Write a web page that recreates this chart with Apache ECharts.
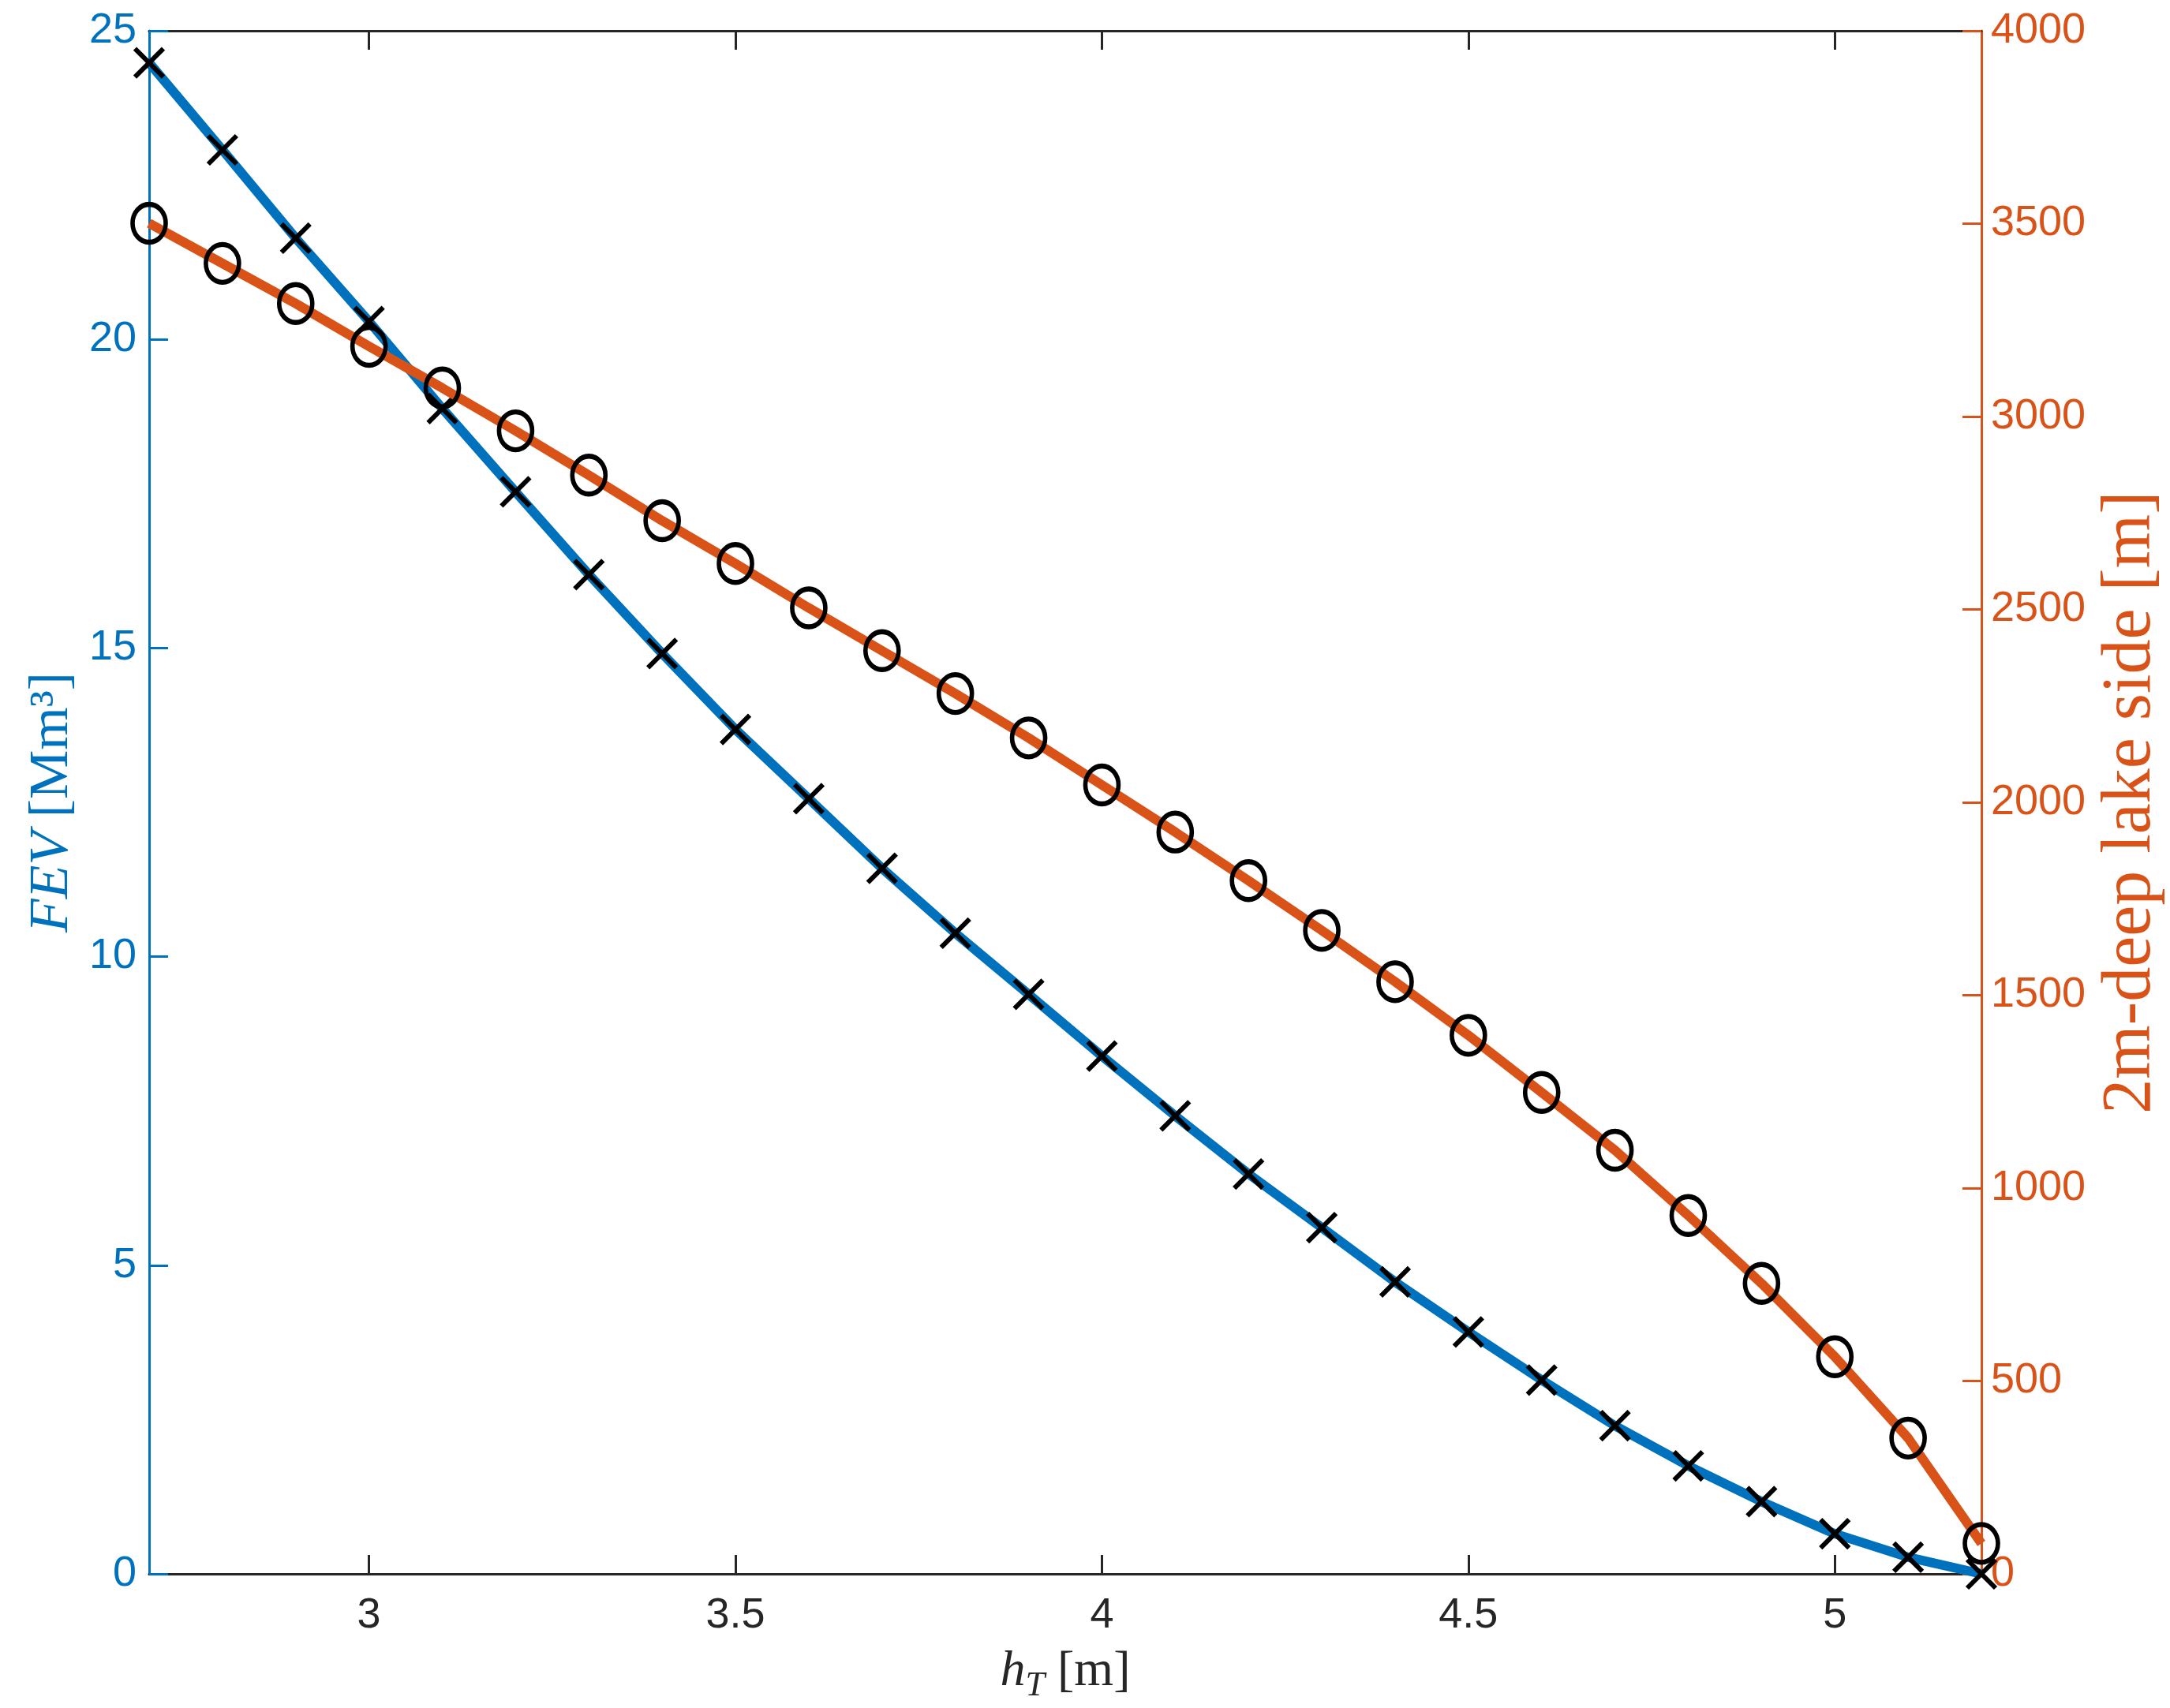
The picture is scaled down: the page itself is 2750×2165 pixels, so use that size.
<!DOCTYPE html>
<html>
<head>
<meta charset="utf-8">
<script src="https://cdn.jsdelivr.net/npm/echarts@6/dist/echarts.min.js"></script>
<style>html,body{margin:0;padding:0;background:#fff;overflow:hidden}#c{width:2750px;height:2165px}</style>
</head>
<body>
<div id="c"></div>
<script>
const hT = [2.7,2.8,2.9,3.0,3.1,3.2,3.3,3.4,3.5,3.6,3.7,3.8,3.9,4.0,4.1,4.2,4.3,4.4,4.5,4.6,4.7,4.8,4.9,5.0,5.1,5.2];
const fev = [24.48,23.07,21.64,20.29,18.88,17.53,16.19,14.91,13.68,12.56,11.43,10.38,9.39,8.39,7.42,6.48,5.61,4.73,3.92,3.14,2.40,1.75,1.17,0.65,0.27,0.0];
const lakeSide = [3501,3397,3293,3182,3074,2963,2848,2730,2619,2504,2393,2282,2167,2045,1923,1797,1668,1535,1396,1248,1098,929,753,563,352,79];
const xTicks = [3,3.5,4,4.5,5];
const leftTicks = [0,5,10,15,20,25];
const rightTicks = [0,500,1000,1500,2000,2500,3000,3500,4000];

const BLUE = '#0072BD', ORANGE = '#D95319', DARK = '#262626';
const sans = 'Liberation Sans';
const serif = 'Liberation Serif';
const xMark = 'path://M0,0L10,10M10,0L0,10';

const chart = echarts.init(document.getElementById('c'), null, {renderer: 'canvas'});
chart.setOption({
  animation: false,
  backgroundColor: '#fff',
  grid: {left: 189, right: 239, top: 39, bottom: 170, containLabel: false, outerBoundsMode: 'none'},
  xAxis: [{
    type: 'value', min: 2.7, max: 5.2, position: 'bottom',
    axisLine: {show: true, onZero: false, lineStyle: {color: DARK, width: 3}},
    axisTick: {show: true, inside: true, length: 24, lineStyle: {color: DARK, width: 3}, customValues: xTicks},
    axisLabel: {show: true, margin: 26, color: DARK, fontFamily: sans, fontSize: 54, customValues: xTicks, formatter: v => String(v)},
    splitLine: {show: false},
    name: '{i|h}{sub|T}{n| [m]}', nameLocation: 'middle', nameGap: 84,
    nameTextStyle: {
      color: DARK,
      rich: {
        i: {fontFamily: serif, fontStyle: 'italic', fontSize: 64, color: DARK, lineHeight: 80},
        sub: {fontFamily: serif, fontStyle: 'italic', fontSize: 44, color: DARK, lineHeight: 44, verticalAlign: 'bottom'},
        n: {fontFamily: serif, fontSize: 64, color: DARK, lineHeight: 80}
      }
    }
  }, {
    type: 'value', min: 2.7, max: 5.2, position: 'top',
    axisLine: {show: true, onZero: false, lineStyle: {color: DARK, width: 3}},
    axisTick: {show: true, inside: true, length: 24, lineStyle: {color: DARK, width: 3}, customValues: xTicks},
    axisLabel: {show: false},
    splitLine: {show: false}
  }],
  yAxis: [{
    type: 'value', min: 0, max: 25, interval: 5, position: 'left',
    axisLine: {show: true, onZero: false, lineStyle: {color: BLUE, width: 3}},
    axisTick: {show: true, inside: true, length: 24, lineStyle: {color: BLUE, width: 3}, customValues: leftTicks},
    axisLabel: {margin: 16, color: BLUE, fontFamily: sans, fontSize: 54, customValues: leftTicks, formatter: v => String(v)},
    splitLine: {show: false},
    name: '{i|FEV}{n| [Mm³]}', nameLocation: 'middle', nameGap: 86, nameRotate: 90,
    nameTextStyle: {
      color: BLUE,
      rich: {
        i: {fontFamily: serif, fontStyle: 'italic', fontSize: 70, color: BLUE},
        n: {fontFamily: serif, fontSize: 70, color: BLUE}
      }
    }
  }, {
    type: 'value', min: 0, max: 4000, interval: 500, position: 'right',
    axisLine: {show: true, onZero: false, lineStyle: {color: ORANGE, width: 3}},
    axisTick: {show: true, inside: true, length: 24, lineStyle: {color: ORANGE, width: 3}, customValues: rightTicks},
    axisLabel: {margin: 12, color: ORANGE, fontFamily: sans, fontSize: 54, customValues: rightTicks, formatter: v => String(v)},
    splitLine: {show: false},
    name: '2m-deep lake side [m]', nameLocation: 'middle', nameGap: 146, nameRotate: 90,
    nameTextStyle: {color: ORANGE, fontFamily: serif, fontSize: 88}
  }],
  series: [{
    type: 'line', xAxisIndex: 0, yAxisIndex: 0, clip: false,
    data: hT.map((x, i) => [x, fev[i]]),
    lineStyle: {color: BLUE, width: 12},
    symbol: xMark, symbolSize: 36, showAllSymbol: true,
    itemStyle: {color: 'transparent', borderColor: '#000', borderWidth: 6},
    z: 2
  }, {
    type: 'line', xAxisIndex: 0, yAxisIndex: 1, clip: false,
    data: hT.map((x, i) => [x, lakeSide[i]]),
    lineStyle: {color: ORANGE, width: 12},
    symbol: 'circle', symbolSize: [42, 48], showAllSymbol: true,
    itemStyle: {color: 'transparent', borderColor: '#000', borderWidth: 6},
    z: 3
  }]
});
</script>
</body>
</html>
